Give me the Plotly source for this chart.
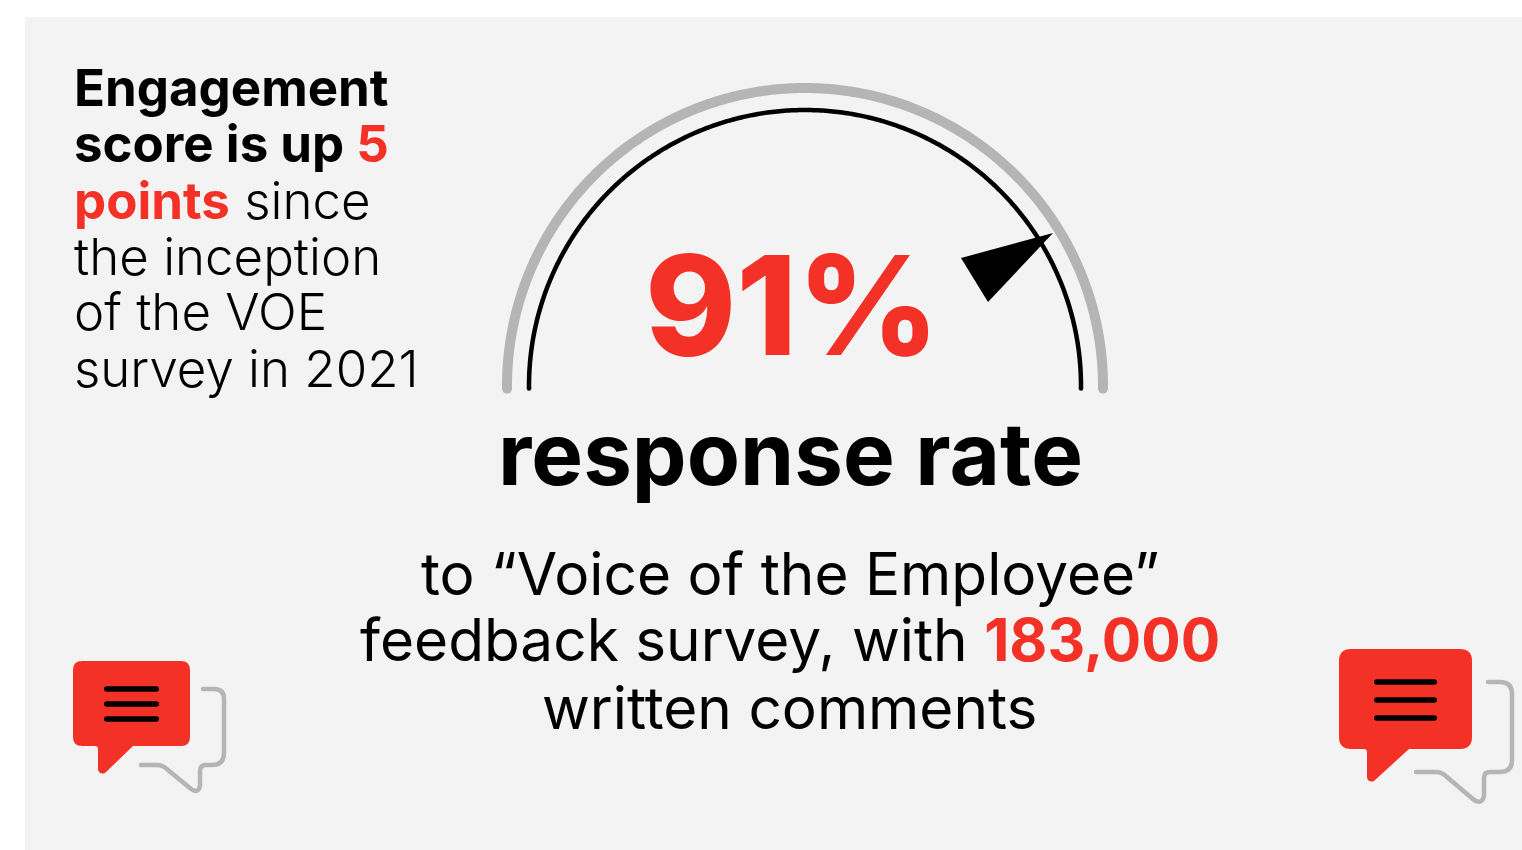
import numpy as np
import plotly.graph_objects as go

RED = "#F33127"
BLACK = "#000000"
GREY = "#B5B5B5"
PANEL = "#F3F3F3"
FONT = "Inter"

# Gauge geometry and reading
response_rate = 91
gauge_center = (805, 386)
outer_radius = 298
inner_radius = 276

# Headline block, one entry per line
headline_lines = [
    "<b>Engagement</b>",
    "<b>score is up </b><b style='color:#F33127'>5</b>",
    "<b style='color:#F33127'>points</b> since",
    "the inception",
    "of the VOE",
    "survey in 2021",
]
headline_y = [87, 143, 200, 256, 311, 368]

detail_lines = [
    "to “Voice of the Employee”",
    "feedback survey, with <b style='color:#F33127'>183,000</b>",
    "written comments",
]
detail_x = [790, 790, 789]
detail_y = [573, 639, 707]


def arc(radius, start=180.5, end=-0.5, n=360):
    t = np.radians(np.linspace(start, end, n))
    return gauge_center[0] + radius * np.cos(t), gauge_center[1] - radius * np.sin(t)


def red_bubble(x0, y0, x1, y1, r, tail_x, tail_bottom, tail_end):
    """Rounded speech bubble whose tail hangs from the bottom edge."""
    return (
        f"M{x0+r},{y0} L{x1-r},{y0} Q{x1},{y0} {x1},{y0+r} L{x1},{y1-r} Q{x1},{y1} {x1-r},{y1} "
        f"L{tail_end},{y1} L{tail_x+7},{tail_bottom-1} Q{tail_x+2},{tail_bottom+1} {tail_x},{tail_bottom-4} "
        f"L{tail_x},{y1+3} Q{tail_x},{y1} {tail_x-3},{y1} "
        f"L{x0+r},{y1} Q{x0},{y1} {x0},{y1-r} L{x0},{y0+r} Q{x0},{y0} {x0+r},{y0} Z"
    )


def pill(x0, x1, y, thick):
    """Horizontal bar with rounded ends."""
    h = thick / 2
    return (
        f"M{x0+h},{y-h} L{x1-h},{y-h} Q{x1},{y-h} {x1},{y} Q{x1},{y+h} {x1-h},{y+h} "
        f"L{x0+h},{y+h} Q{x0},{y+h} {x0},{y} Q{x0},{y-h} {x0+h},{y-h} Z"
    )


def dot(x, y, d, color):
    return dict(type="circle", x0=x - d / 2, x1=x + d / 2, y0=y - d / 2, y1=y + d / 2,
                fillcolor=color, line_width=0)


fig = go.Figure()
xo, yo = arc(outer_radius)
xi, yi = arc(inner_radius)
fig.add_trace(go.Scatter(x=xo, y=yo, mode="lines", line=dict(color=GREY, width=10, simplify=False), hoverinfo="skip"))
fig.add_trace(go.Scatter(x=xi, y=yi, mode="lines", line=dict(color=BLACK, width=4.5, simplify=False), hoverinfo="skip"))

shapes = [
    dict(type="rect", x0=25, y0=17, x1=1522, y1=850, fillcolor=PANEL, line_width=0, layer="below"),
    # gauge pointer
    dict(type="path", path="M1053,233 L961,258 L988,302 Z", fillcolor=BLACK, line_width=0),
    # left bubbles
    dict(type="path", path="M203,689 L214,689 Q224,689 224,699 L224,753 Q224,765 212,765 L206,765 Q200,765 200,771 "
                           "L200,786 Q198,794 191,789 L168,770 Q163,765 157,765 L141,765",
         line=dict(color=GREY, width=4.5)),
    dict(type="path", path=red_bubble(73, 661, 190, 746, 9, 98, 774, 133), fillcolor=RED, line_width=0),
    # right bubbles
    dict(type="path", path="M1488,682 L1500,682 Q1512,682 1512,694 L1512,760 Q1512,772 1500,772 L1490,772 Q1484,772 1484,778 "
                           "L1484,796 Q1482,805 1474,800 L1447,777 Q1442,772 1436,772 L1416,772",
         line=dict(color=GREY, width=4.5)),
    dict(type="path", path=red_bubble(1339, 649, 1472, 749, 12, 1367, 782, 1409), fillcolor=RED, line_width=0),
]
# rounded tips on the open strokes
for x, y, d, c in [
    (xo[0], yo[0], 10, GREY), (xo[-1], yo[-1], 10, GREY),
    (xi[0], yi[0], 4.5, BLACK), (xi[-1], yi[-1], 4.5, BLACK),
    (203, 689, 4.5, GREY), (141, 765, 4.5, GREY),
    (1488, 682, 4.5, GREY), (1416, 772, 4.5, GREY),
]:
    shapes.append(dot(x, y, d, c))
for y in (689, 704, 719):
    shapes.append(dict(type="path", path=pill(104, 159, y, 5.5), fillcolor=BLACK, line_width=0))
for y in (682, 700, 718):
    shapes.append(dict(type="path", path=pill(1374, 1437, y, 5.5), fillcolor=BLACK, line_width=0))

annotations = []
for text, y in zip(headline_lines, headline_y):
    annotations.append(dict(x=72, y=y, text=text, xanchor="left", yanchor="middle", showarrow=False,
                            font=dict(family=FONT, size=51, color=BLACK, weight=300)))
annotations.append(dict(x=792, y=304, text=f"{response_rate}%", showarrow=False,
                        font=dict(family=FONT, size=138, color=RED, weight=800)))
annotations.append(dict(x=790, y=453, text="<b>response rate</b>", showarrow=False,
                        font=dict(family=FONT, size=87, color=BLACK)))
for text, x, y in zip(detail_lines, detail_x, detail_y):
    annotations.append(dict(x=x, y=y, text=text, showarrow=False,
                            font=dict(family=FONT, size=58.5, color=BLACK)))

fig.update_layout(
    width=1522, height=850, margin=dict(l=0, r=0, t=0, b=0),
    paper_bgcolor="white", plot_bgcolor="white", showlegend=False,
    xaxis=dict(range=[0, 1522], visible=False, fixedrange=True),
    yaxis=dict(range=[850, 0], visible=False, fixedrange=True),
    shapes=shapes, annotations=annotations,
)
fig.write_html("out.html", config={"displayModeBar": False})
